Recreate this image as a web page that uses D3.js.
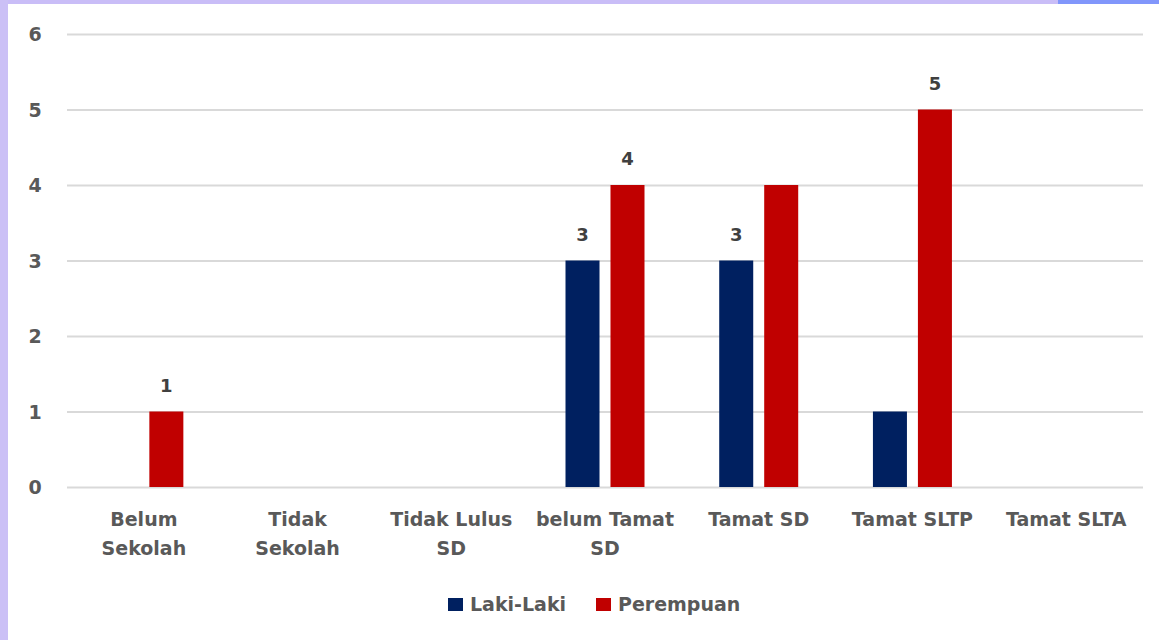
<!DOCTYPE html>
<html>
<head>
<meta charset="utf-8">
<script src="https://cdn.jsdelivr.net/npm/d3@7"></script>
<style>
  body { margin: 0; background: #fff; }
  svg { display: block; }
</style>
</head>
<body>
<svg id="chart" width="1159" height="640"></svg>
<script>
'use strict';

// data
var categories = [
    ["Belum", "Sekolah"],
    ["Tidak", "Sekolah"],
    ["Tidak Lulus", "SD"],
    ["belum Tamat", "SD"],
    ["Tamat SD"],
    ["Tamat SLTP"],
    ["Tamat SLTA"]
];
var seriesNames = ["Laki-Laki", "Perempuan"];
var lakiValues = [0, 0, 0, 3, 3, 1, 0];
var perempuanValues = [1, 0, 0, 4, 4, 5, 0];
// which bars carry a value label in the original
var lakiLabels = [false, false, false, true, true, false, false];
var perempuanLabels = [true, false, false, true, false, true, false];
var yTicks = [0, 1, 2, 3, 4, 5, 6];
var colors = ["#002060", "#C00000"];

var svg = d3.select("#chart");
var font = "'DejaVu Sans', Verdana, sans-serif";
var grey = "#595959";

// frame decoration
svg.append("rect").attr("x", 0).attr("y", 0).attr("width", 1159).attr("height", 640).attr("fill", "#fff");
svg.append("rect").attr("x", 0).attr("y", 0).attr("width", 1159).attr("height", 4).attr("fill", "#c9bdf7");
svg.append("rect").attr("x", 0).attr("y", 0).attr("width", 8).attr("height", 640).attr("fill", "#cbc0f6");
svg.append("rect").attr("x", 1058).attr("y", 0).attr("width", 101).attr("height", 4).attr("fill", "#8196fb");

var plotLeft = 67, plotRight = 1143, plotTop = 34, plotBottom = 487;

var x = d3.scaleBand()
          .domain(d3.range(categories.length))
          .range([plotLeft, plotRight]);

var inner = d3.scaleBand()
              .domain([0, 1])
              .range([-39.5, 39.5])
              .paddingInner(0.244);

var y = d3.scaleLinear()
          .domain([0, 6])
          .range([plotBottom, plotTop]);

// gridlines + y tick labels
var yAxis = d3.axisLeft(y)
              .tickValues(yTicks)
              .tickFormat(d3.format("d"))
              .tickSize(-(plotRight - plotLeft))
              .tickPadding(0);
var gy = svg.append("g").attr("transform", "translate(" + plotLeft + ",0)").call(yAxis);
gy.select(".domain").remove();
gy.selectAll(".tick line").attr("stroke", "#d9d9d9").attr("stroke-width", 2);
gy.selectAll(".tick text")
  .attr("x", -32)
  .attr("text-anchor", "middle")
  .attr("dy", "0.35em")
  .attr("fill", grey)
  .style("font-family", font)
  .style("font-size", "19px")
  .style("font-weight", "bold");

// bars
var rows = categories.map((c, i) => ({
    i: i,
    bars: [
        {v: lakiValues[i], s: 0, label: lakiLabels[i]},
        {v: perempuanValues[i], s: 1, label: perempuanLabels[i]}
    ]
}));

var groups = svg.selectAll("g.cat")
                .data(rows)
                .enter()
                .append("g")
                .classed("cat", true)
                .attr("transform", d => "translate(" + (x(d.i) + x.bandwidth() / 2) + ",0)");

groups.selectAll("rect")
      .data(d => d.bars.filter(b => b.v > 0))
      .enter()
      .append("rect")
      .attr("x", d => inner(d.s))
      .attr("y", d => y(d.v))
      .attr("width", inner.bandwidth())
      .attr("height", d => y(0) - y(d.v))
      .attr("fill", d => colors[d.s]);

groups.selectAll("text.val")
      .data(d => d.bars.filter(b => b.label))
      .enter()
      .append("text")
      .classed("val", true)
      .attr("x", d => inner(d.s) + inner.bandwidth() / 2)
      .attr("y", d => y(d.v) - 20)
      .attr("text-anchor", "middle")
      .attr("fill", "#404040")
      .style("font-family", font)
      .style("font-size", "18px")
      .style("font-weight", "bold")
      .text(d => d.v);

// category labels
var catText = groups.append("text")
                    .attr("text-anchor", "middle")
                    .attr("fill", grey)
                    .style("font-family", font)
                    .style("font-size", "19px")
                    .style("font-weight", "bold");
catText.selectAll("tspan")
       .data(d => categories[d.i])
       .enter()
       .append("tspan")
       .attr("x", 0)
       .attr("y", (d, k) => 526 + k * 29)
       .text(d => d);

// legend
var legendX = [448, 596];
var legend = svg.selectAll("g.legend")
                .data(seriesNames)
                .enter()
                .append("g")
                .classed("legend", true)
                .attr("transform", (d, i) => "translate(" + legendX[i] + ",598)");
legend.append("rect")
      .attr("width", 15).attr("height", 13)
      .attr("fill", (d, i) => colors[i]);
legend.append("text")
      .attr("x", 22).attr("y", 13)
      .attr("fill", grey)
      .style("font-family", font)
      .style("font-size", "19px")
      .style("font-weight", "bold")
      .text(d => d);
</script>
</body>
</html>
